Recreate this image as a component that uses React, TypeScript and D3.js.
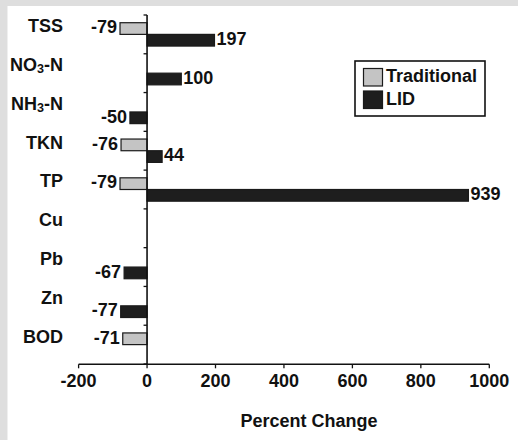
import React from "react";
import * as d3 from "d3";

const categories = ["TSS", "NO3-N", "NH3-N", "TKN", "TP", "Cu", "Pb", "Zn", "BOD"];
const traditional: (number | null)[] = [-79, null, null, -76, -79, null, null, null, -71];
const lid: (number | null)[] = [197, 100, -50, 44, 939, null, -67, -77, null];
const xTicks = [-200, 0, 200, 400, 600, 800, 1000];
const seriesNames = ["Traditional", "LID"];
const seriesFill = ["#c4c4c4", "#1e1e1e"];

const W = 518, H = 440;
const FONT = "'Liberation Sans', Arial, sans-serif";
const FS = 18;

function CatLabel({ name, x, y }: { name: string; x: number; y: number }) {
  const m = name.match(/^(NO|NH)(\d)(-N)$/);
  if (m) {
    return (
      <text x={x} y={y} textAnchor="end" dominantBaseline="middle" fontFamily={FONT} fontWeight="bold" fontSize={FS} fill="#111">
        {m[1]}
        <tspan fontSize={FS * 0.7} dy={4}>{m[2]}</tspan>
        <tspan dy={-4}>{m[3]}</tspan>
      </text>
    );
  }
  return (
    <text x={x} y={y} textAnchor="end" dominantBaseline="middle" fontFamily={FONT} fontWeight="bold" fontSize={FS} fill="#111">
      {name}
    </text>
  );
}

export default function App() {
  const x = d3.scaleLinear().domain([-200, 1000]).range([78.6, 489.3]);
  const y = d3.scaleBand<string>().domain(categories).range([15, 364]).padding(0);
  const ys = d3.scaleBand<string>().domain(seriesNames).range([0, y.bandwidth()]).paddingInner(0).paddingOuter(0.66);
  const x0 = x(0);
  const axisY = 364.3;
  const boundaries = categories.map((c) => y(c)!).concat([364]);
  const series = [traditional, lid];

  return (
    <div style={{ position: "fixed", left: 0, top: 0 }}>
      <svg width={W} height={H} style={{ display: "block" }}>
        <rect x={0} y={0} width={W} height={H} fill="#dedede" />
        <rect x={7.5} y={6} width={W - 7.5} height={H - 6} fill="#ffffff" />

        {/* bars */}
        {series.map((vals, si) =>
          vals.map((v, ci) => {
            if (v === null) return null;
            const cat = categories[ci];
            const by = y(cat)! + ys(seriesNames[si])!;
            const bh = ys.bandwidth();
            const xa = Math.min(x(v), x0);
            const xb = Math.max(x(v), x0);
            const cy = by + bh / 2;
            return (
              <g key={`${si}-${ci}`}>
                <rect x={xa} y={by} width={xb - xa} height={bh} fill={seriesFill[si]} stroke="#1a1a1a" strokeWidth={1.2} />
                <text
                  x={v < 0 ? xa - 3 : xb + 2}
                  y={cy}
                  textAnchor={v < 0 ? "end" : "start"}
                  dominantBaseline="middle"
                  fontFamily={FONT}
                  fontWeight="bold"
                  fontSize={FS}
                  fill="#111"
                >
                  {v}
                </text>
              </g>
            );
          })
        )}

        {/* y axis */}
        <line x1={x0} x2={x0} y1={15} y2={axisY} stroke="#111" strokeWidth={1.6} />
        {boundaries.map((b, i) => (
          <line key={i} x1={x0 - 3.5} x2={x0} y1={b} y2={b} stroke="#111" strokeWidth={1.3} />
        ))}
        {categories.map((c) => (
          <CatLabel key={c} name={c} x={63} y={y(c)! + ys("Traditional")! + ys.bandwidth() / 2 - 1} />
        ))}

        {/* x axis */}
        <line x1={x(-200)} x2={x(1000)} y1={axisY} y2={axisY} stroke="#111" strokeWidth={1.6} />
        {xTicks.map((t) => (
          <g key={t}>
            <line x1={x(t)} x2={x(t)} y1={axisY} y2={axisY + 4} stroke="#111" strokeWidth={1.3} />
            <text x={x(t)} y={axisY + 18} textAnchor="middle" dominantBaseline="middle" fontFamily={FONT} fontWeight="bold" fontSize={FS} fill="#111">
              {t}
            </text>
          </g>
        ))}
        <text x={309} y={422} textAnchor="middle" dominantBaseline="middle" fontFamily={FONT} fontWeight="bold" fontSize={FS} fill="#111">
          Percent Change
        </text>

        {/* legend */}
        <rect x={355} y={61} width={130} height={55} fill="#fff" stroke="#111" strokeWidth={1.6} />
        {seriesNames.map((s, i) => (
          <g key={s}>
            <rect x={363.5} y={68.5 + i * 22.5} width={19} height={17.5} fill={seriesFill[i]} stroke="#1a1a1a" strokeWidth={1.2} />
            <text x={386} y={77.5 + i * 22.5} dominantBaseline="middle" fontFamily={FONT} fontWeight="bold" fontSize={FS} fill="#111">
              {s}
            </text>
          </g>
        ))}
      </svg>
    </div>
  );
}
